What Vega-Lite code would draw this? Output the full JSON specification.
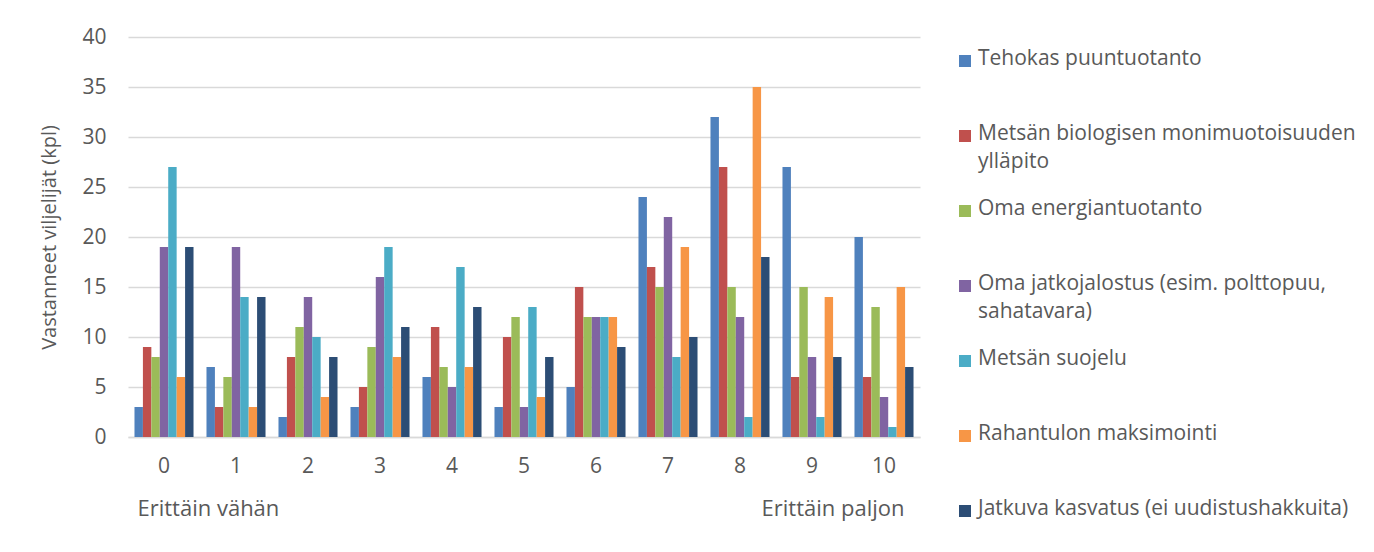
{
  "$schema": "https://vega.github.io/schema/vega-lite/v6.json",
  "padding": {"left": 39, "top": 26, "right": 10, "bottom": 10},
  "background": "white",
  "config": {"font": "Open Sans", "view": {"stroke": null}},
  "spacing": 45,
  "bounds": "flush",
  "datasets": {
    "tiedot": [
      {"arvo": 0, "sarja": "Tehokas puuntuotanto", "kpl": 3},
      {"arvo": 0, "sarja": "Metsän biologisen monimuotoisuuden ylläpito", "kpl": 9},
      {"arvo": 0, "sarja": "Oma energiantuotanto", "kpl": 8},
      {"arvo": 0, "sarja": "Oma jatkojalostus (esim. polttopuu, sahatavara)", "kpl": 19},
      {"arvo": 0, "sarja": "Metsän suojelu", "kpl": 27},
      {"arvo": 0, "sarja": "Rahantulon maksimointi", "kpl": 6},
      {"arvo": 0, "sarja": "Jatkuva kasvatus (ei uudistushakkuita)", "kpl": 19},
      {"arvo": 1, "sarja": "Tehokas puuntuotanto", "kpl": 7},
      {"arvo": 1, "sarja": "Metsän biologisen monimuotoisuuden ylläpito", "kpl": 3},
      {"arvo": 1, "sarja": "Oma energiantuotanto", "kpl": 6},
      {"arvo": 1, "sarja": "Oma jatkojalostus (esim. polttopuu, sahatavara)", "kpl": 19},
      {"arvo": 1, "sarja": "Metsän suojelu", "kpl": 14},
      {"arvo": 1, "sarja": "Rahantulon maksimointi", "kpl": 3},
      {"arvo": 1, "sarja": "Jatkuva kasvatus (ei uudistushakkuita)", "kpl": 14},
      {"arvo": 2, "sarja": "Tehokas puuntuotanto", "kpl": 2},
      {"arvo": 2, "sarja": "Metsän biologisen monimuotoisuuden ylläpito", "kpl": 8},
      {"arvo": 2, "sarja": "Oma energiantuotanto", "kpl": 11},
      {"arvo": 2, "sarja": "Oma jatkojalostus (esim. polttopuu, sahatavara)", "kpl": 14},
      {"arvo": 2, "sarja": "Metsän suojelu", "kpl": 10},
      {"arvo": 2, "sarja": "Rahantulon maksimointi", "kpl": 4},
      {"arvo": 2, "sarja": "Jatkuva kasvatus (ei uudistushakkuita)", "kpl": 8},
      {"arvo": 3, "sarja": "Tehokas puuntuotanto", "kpl": 3},
      {"arvo": 3, "sarja": "Metsän biologisen monimuotoisuuden ylläpito", "kpl": 5},
      {"arvo": 3, "sarja": "Oma energiantuotanto", "kpl": 9},
      {"arvo": 3, "sarja": "Oma jatkojalostus (esim. polttopuu, sahatavara)", "kpl": 16},
      {"arvo": 3, "sarja": "Metsän suojelu", "kpl": 19},
      {"arvo": 3, "sarja": "Rahantulon maksimointi", "kpl": 8},
      {"arvo": 3, "sarja": "Jatkuva kasvatus (ei uudistushakkuita)", "kpl": 11},
      {"arvo": 4, "sarja": "Tehokas puuntuotanto", "kpl": 6},
      {"arvo": 4, "sarja": "Metsän biologisen monimuotoisuuden ylläpito", "kpl": 11},
      {"arvo": 4, "sarja": "Oma energiantuotanto", "kpl": 7},
      {"arvo": 4, "sarja": "Oma jatkojalostus (esim. polttopuu, sahatavara)", "kpl": 5},
      {"arvo": 4, "sarja": "Metsän suojelu", "kpl": 17},
      {"arvo": 4, "sarja": "Rahantulon maksimointi", "kpl": 7},
      {"arvo": 4, "sarja": "Jatkuva kasvatus (ei uudistushakkuita)", "kpl": 13},
      {"arvo": 5, "sarja": "Tehokas puuntuotanto", "kpl": 3},
      {"arvo": 5, "sarja": "Metsän biologisen monimuotoisuuden ylläpito", "kpl": 10},
      {"arvo": 5, "sarja": "Oma energiantuotanto", "kpl": 12},
      {"arvo": 5, "sarja": "Oma jatkojalostus (esim. polttopuu, sahatavara)", "kpl": 3},
      {"arvo": 5, "sarja": "Metsän suojelu", "kpl": 13},
      {"arvo": 5, "sarja": "Rahantulon maksimointi", "kpl": 4},
      {"arvo": 5, "sarja": "Jatkuva kasvatus (ei uudistushakkuita)", "kpl": 8},
      {"arvo": 6, "sarja": "Tehokas puuntuotanto", "kpl": 5},
      {"arvo": 6, "sarja": "Metsän biologisen monimuotoisuuden ylläpito", "kpl": 15},
      {"arvo": 6, "sarja": "Oma energiantuotanto", "kpl": 12},
      {"arvo": 6, "sarja": "Oma jatkojalostus (esim. polttopuu, sahatavara)", "kpl": 12},
      {"arvo": 6, "sarja": "Metsän suojelu", "kpl": 12},
      {"arvo": 6, "sarja": "Rahantulon maksimointi", "kpl": 12},
      {"arvo": 6, "sarja": "Jatkuva kasvatus (ei uudistushakkuita)", "kpl": 9},
      {"arvo": 7, "sarja": "Tehokas puuntuotanto", "kpl": 24},
      {"arvo": 7, "sarja": "Metsän biologisen monimuotoisuuden ylläpito", "kpl": 17},
      {"arvo": 7, "sarja": "Oma energiantuotanto", "kpl": 15},
      {"arvo": 7, "sarja": "Oma jatkojalostus (esim. polttopuu, sahatavara)", "kpl": 22},
      {"arvo": 7, "sarja": "Metsän suojelu", "kpl": 8},
      {"arvo": 7, "sarja": "Rahantulon maksimointi", "kpl": 19},
      {"arvo": 7, "sarja": "Jatkuva kasvatus (ei uudistushakkuita)", "kpl": 10},
      {"arvo": 8, "sarja": "Tehokas puuntuotanto", "kpl": 32},
      {"arvo": 8, "sarja": "Metsän biologisen monimuotoisuuden ylläpito", "kpl": 27},
      {"arvo": 8, "sarja": "Oma energiantuotanto", "kpl": 15},
      {"arvo": 8, "sarja": "Oma jatkojalostus (esim. polttopuu, sahatavara)", "kpl": 12},
      {"arvo": 8, "sarja": "Metsän suojelu", "kpl": 2},
      {"arvo": 8, "sarja": "Rahantulon maksimointi", "kpl": 35},
      {"arvo": 8, "sarja": "Jatkuva kasvatus (ei uudistushakkuita)", "kpl": 18},
      {"arvo": 9, "sarja": "Tehokas puuntuotanto", "kpl": 27},
      {"arvo": 9, "sarja": "Metsän biologisen monimuotoisuuden ylläpito", "kpl": 6},
      {"arvo": 9, "sarja": "Oma energiantuotanto", "kpl": 15},
      {"arvo": 9, "sarja": "Oma jatkojalostus (esim. polttopuu, sahatavara)", "kpl": 8},
      {"arvo": 9, "sarja": "Metsän suojelu", "kpl": 2},
      {"arvo": 9, "sarja": "Rahantulon maksimointi", "kpl": 14},
      {"arvo": 9, "sarja": "Jatkuva kasvatus (ei uudistushakkuita)", "kpl": 8},
      {"arvo": 10, "sarja": "Tehokas puuntuotanto", "kpl": 20},
      {"arvo": 10, "sarja": "Metsän biologisen monimuotoisuuden ylläpito", "kpl": 6},
      {"arvo": 10, "sarja": "Oma energiantuotanto", "kpl": 13},
      {"arvo": 10, "sarja": "Oma jatkojalostus (esim. polttopuu, sahatavara)", "kpl": 4},
      {"arvo": 10, "sarja": "Metsän suojelu", "kpl": 1},
      {"arvo": 10, "sarja": "Rahantulon maksimointi", "kpl": 15},
      {"arvo": 10, "sarja": "Jatkuva kasvatus (ei uudistushakkuita)", "kpl": 7}
    ],
    "selite": [
      {"sarja": "Tehokas puuntuotanto", "nimi": "Tehokas puuntuotanto"},
      {"sarja": "Metsän biologisen monimuotoisuuden ylläpito", "nimi": "Metsän biologisen monimuotoisuuden|ylläpito"},
      {"sarja": "Oma energiantuotanto", "nimi": "Oma energiantuotanto"},
      {"sarja": "Oma jatkojalostus (esim. polttopuu, sahatavara)", "nimi": "Oma jatkojalostus (esim. polttopuu,|sahatavara)"},
      {"sarja": "Metsän suojelu", "nimi": "Metsän suojelu"},
      {"sarja": "Rahantulon maksimointi", "nimi": "Rahantulon maksimointi"},
      {"sarja": "Jatkuva kasvatus (ei uudistushakkuita)", "nimi": "Jatkuva kasvatus (ei uudistushakkuita)"}
    ],
    "asteikko": [
      {"teksti": "Erittäin vähän", "arvo": 0, "kohta": -7.2},
      {"teksti": "Erittäin paljon", "arvo": 10, "kohta": -7.2}
    ]
  },
  "hconcat": [
    {
      "width": 792,
      "height": 400,
      "layer": [
        {
          "data": {"name": "tiedot"},
          "mark": {"type": "bar"},
          "encoding": {
            "x": {
              "field": "arvo", "type": "ordinal",
              "scale": {"paddingInner": 0.18, "paddingOuter": 0.09},
              "axis": {"title": null, "labelAngle": 0, "labelFontSize": 21, "labelColor": "#595959", "labelPadding": 18, "ticks": false, "domainColor": "#D9D9D9", "domainWidth": 1.5, "grid": false}
            },
            "xOffset": {
              "field": "sarja", "type": "nominal",
              "sort": ["Tehokas puuntuotanto", "Metsän biologisen monimuotoisuuden ylläpito", "Oma energiantuotanto", "Oma jatkojalostus (esim. polttopuu, sahatavara)", "Metsän suojelu", "Rahantulon maksimointi", "Jatkuva kasvatus (ei uudistushakkuita)"],
              "scale": {"paddingInner": 0, "paddingOuter": 0}
            },
            "y": {
              "field": "kpl", "type": "quantitative",
              "scale": {"domain": [0, 40]},
              "axis": {"title": "Vastanneet viljelijät (kpl)", "titleFontSize": 20, "titleFontWeight": "normal", "titleColor": "#595959", "titlePadding": 22, "values": [0, 5, 10, 15, 20, 25, 30, 35, 40], "labelFontSize": 21, "labelColor": "#595959", "labelPadding": 22, "ticks": false, "domain": false, "gridColor": "#D9D9D9", "gridWidth": 1.5}
            },
            "color": {
              "field": "sarja", "type": "nominal",
              "scale": {
                "domain": ["Tehokas puuntuotanto", "Metsän biologisen monimuotoisuuden ylläpito", "Oma energiantuotanto", "Oma jatkojalostus (esim. polttopuu, sahatavara)", "Metsän suojelu", "Rahantulon maksimointi", "Jatkuva kasvatus (ei uudistushakkuita)"],
                "range": ["#4F81BD", "#C0504D", "#9BBB59", "#8064A2", "#4BACC6", "#F79646", "#2C4D75"]
              },
              "legend": null
            }
          }
        },
        {
          "data": {"name": "asteikko"},
          "transform": [{"filter": "datum.arvo == 0"}],
          "mark": {"type": "text", "align": "left", "baseline": "middle", "dx": 3, "fontSize": 22, "color": "#595959"},
          "encoding": {
            "x": {"field": "arvo", "type": "ordinal", "bandPosition": 0},
            "y": {"field": "kohta", "type": "quantitative"},
            "text": {"field": "teksti"}
          }
        },
        {
          "data": {"name": "asteikko"},
          "transform": [{"filter": "datum.arvo == 10"}],
          "mark": {"type": "text", "align": "right", "baseline": "middle", "dx": -9, "fontSize": 22, "color": "#595959"},
          "encoding": {
            "x": {"field": "arvo", "type": "ordinal", "bandPosition": 1},
            "y": {"field": "kohta", "type": "quantitative"},
            "text": {"field": "teksti"}
          }
        }
      ]
    },
    {
      "width": 390,
      "height": 498,
      "data": {"name": "selite"},
      "layer": [
        {
          "mark": {"type": "square", "size": 144, "opacity": 1},
          "encoding": {
            "x": {"datum": 0, "type": "quantitative", "scale": {"domain": [0, 1]}, "axis": null},
            "y": {"field": "sarja", "type": "nominal", "sort": null, "scale": {"type": "point", "padding": 0.32}, "axis": null},
            "color": {
              "field": "sarja", "type": "nominal",
              "scale": {
                "domain": ["Tehokas puuntuotanto", "Metsän biologisen monimuotoisuuden ylläpito", "Oma energiantuotanto", "Oma jatkojalostus (esim. polttopuu, sahatavara)", "Metsän suojelu", "Rahantulon maksimointi", "Jatkuva kasvatus (ei uudistushakkuita)"],
                "range": ["#4F81BD", "#C0504D", "#9BBB59", "#8064A2", "#4BACC6", "#F79646", "#2C4D75"]
              },
              "legend": null
            }
          }
        },
        {
          "mark": {"type": "text", "align": "left", "baseline": "top", "dx": 13, "dy": -13, "fontSize": 21, "color": "#595959", "lineBreak": "|", "lineHeight": 28},
          "encoding": {
            "x": {"datum": 0, "type": "quantitative"},
            "y": {"field": "sarja", "type": "nominal", "sort": null},
            "text": {"field": "nimi"}
          }
        }
      ]
    }
  ]
}
